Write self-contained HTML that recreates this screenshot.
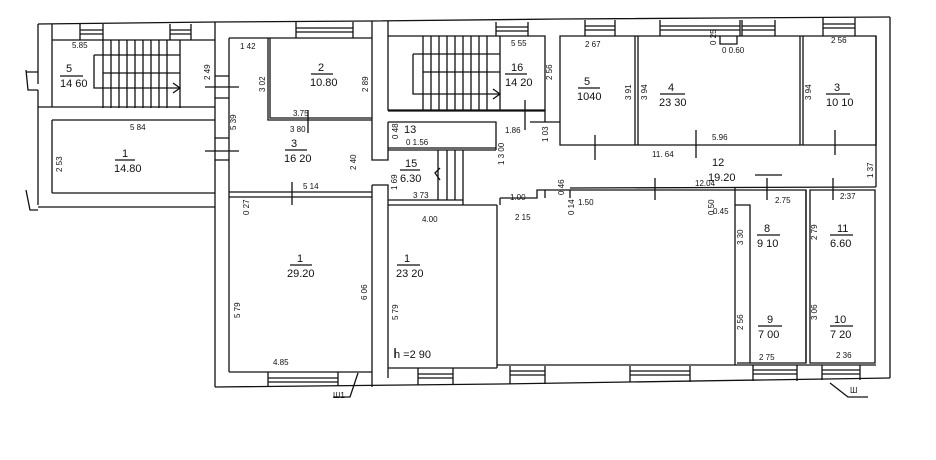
<!DOCTYPE html>
<html><head><meta charset="utf-8"><style>
html,body{margin:0;padding:0;background:#fff;width:936px;height:460px;overflow:hidden}
svg{display:block}
text{font-family:"Liberation Sans",sans-serif;fill:#111}
.l{font-size:11px}
.d{font-size:8px}
</style></head><body>
<svg width="936" height="460" viewBox="0 0 936 460" xmlns="http://www.w3.org/2000/svg" stroke="#111" fill="none" stroke-width="1.3">
<path d="M38 24 L215 22 L372 21 L560 19 L890 17"/>
<path d="M38 24 V72 H26 M38 84 V72"/>
<path d="M26 70 L28 90 H38"/>
<path d="M52 24 V107 M38 90 V107"/>
<path d="M52 40 H215"/>
<path d="M38 107 H215 M38 107 V205"/>
<path d="M52 120 H215 M52 120 V193"/>
<path d="M52 193 H215 M38 207 H215"/>
<path d="M26 190 L30 210 H38"/>
<path d="M80 24 V40 M103 24 V40 M80 30 H103 M80 34 H103"/>
<path d="M170 24 V40 M191 24 V40 M170 30 H191 M170 34 H191"/>
<path d="M94 55 V88 H180 M94 55 H180 M103 40 V108 M180 40 V108 M103 73 H180"/>
<path d="M111 40V108M119 40V108M127 40V108M135 40V108M143 40V108M151 40V108M159 40V108M167 40V108"/>
<path d="M173 83 L180 88 L173 93"/>
<path d="M215 22 V387 M229 38 V372"/>
<path d="M215 76 H229 M215 98 H229 M205 87 H239"/>
<path d="M215 138 H229 M215 160 H229 M205 151 H239"/>
<path d="M229 38 H372 M229 192 H372 M229 197 H372"/>
<path d="M268 38 V120 H372 M270 38 V118 H372"/>
<path d="M296 22 V38 M353 22 V38 M296 28 H353 M296 32 H353"/>
<path d="M308 110 V133"/>
<path d="M292 182 V205"/>
<path d="M372 21 V160 H388 V122 M388 21 V36"/>
<path d="M372 185 H388 V378 M372 185 V387"/>
<path d="M388 36 H545 V110 H388 Z"/>
<path d="M413 54 V94 H500 M413 54 H500 M423 36 V110 M500 36 V110 M423 72 H500"/>
<path d="M431 36V110M439 36V110M447 36V110M455 36V110M463 36V110M471 36V110M479 36V110M487 36V110"/>
<path d="M493 89 L500 94 L493 99"/>
<path d="M496 22 V36 M528 22 V36 M496 27 H528 M496 31 H528"/>
<path d="M525 100 V130"/>
<path d="M388 122 H496 V150 M388 148 H496 M388 150 H496"/>
<path d="M388 111 H545 M545 110 V122 M530 122 H560"/>
<path d="M438 150 V200 M447 150 V200 M455 150 V200 M463 150 V200"/>
<path d="M440 168 L435 173 L440 180"/>
<path d="M388 200 H463 M388 205 H497 M463 200 V205"/>
<path d="M497 205 V368 M500 198 H537 V190 H545 V198"/>
<path d="M500 198 V205 M545 190 H570 V198 M570 190 H735"/>
<path d="M560 36 V145 H876 V36 Z"/>
<path d="M635 36 V145 M638 36 V145 M800 36 V145 M803 36 V145"/>
<path d="M585 20 V36 M615 20 V36 M585 26 H615 M585 30 H615"/>
<path d="M660 20 V36 M740 20 V36 M660 26 H740 M660 30 H740"/>
<path d="M720 36 V44 H737 V36"/>
<path d="M742 20 V36 M775 20 V36 M742 26 H775 M742 30 H775"/>
<path d="M823 18 V36 M855 18 V36 M823 24 H855 M823 28 H855"/>
<path d="M595 135 V160 M696 130 V158 M835 130 V155"/>
<path d="M876 36 V187 M890 17 V378"/>
<path d="M570 188 L876 187"/>
<path d="M655 178 V200 M767 178 V200 M833 178 V200"/>
<path d="M735 188 V205 H750 V363 M735 205 V365"/>
<path d="M735 190 H806 V363 H737 M810 190 H875 V363 H810 Z"/>
<path d="M806 190 V363"/>
<path d="M229 372 H372 M388 368 H497 M497 365 H876"/>
<path d="M215 387 L500 384 L890 378"/>
<path d="M268 372 V386 M338 372 V386 M268 378 H338 M268 382 H338"/>
<path d="M418 368 V385 M453 368 V385 M418 374 H453 M418 378 H453"/>
<path d="M510 366 V384 M545 366 V384 M510 371 H545 M510 375 H545"/>
<path d="M630 366 V382 M690 366 V382 M630 371 H690 M630 375 H690"/>
<path d="M753 365 V381 M797 365 V381 M753 370 H797 M753 374 H797"/>
<path d="M822 365 V380 M860 365 V380 M822 370 H860 M822 374 H860"/>
<path d="M358 373 L350 397 H333"/>
<path d="M830 383 L848 397 H868"/>
<path d="M395 348 V358"/>
<path d="M60 76 H83 M115 160 H135 M311 74 H333 M285 150 H307 M505 74 H527 M578 88 H600 M660 94 H685 M826 94 H850 M755 175 H782 M290 265 H312 M397 265 H420 M757 235 H780 M830 235 H853 M758 326 H782 M830 326 H853 M400 170 H420"/>
</svg>
<svg width="936" height="460" style="position:absolute;left:0;top:0">
<g class="l">
<text x="66" y="72">5</text><text x="60" y="87">14 60</text>
<text x="122" y="157">1</text><text x="114" y="172">14.80</text>
<text x="318" y="71">2</text><text x="310" y="86">10.80</text>
<text x="291" y="147">3</text><text x="284" y="162">16 20</text>
<text x="511" y="71">16</text><text x="505" y="86">14 20</text>
<text x="404" y="133">13</text>
<text x="405" y="167">15</text><text x="400" y="182">6.30</text>
<text x="584" y="85">5</text><text x="577" y="100">1040</text>
<text x="668" y="91">4</text><text x="659" y="106">23 30</text>
<text x="834" y="91">3</text><text x="826" y="106">10 10</text>
<text x="712" y="166">12</text><text x="708" y="181">19.20</text>
<text x="297" y="262">1</text><text x="287" y="277">29.20</text>
<text x="404" y="262">1</text><text x="396" y="277">23 20</text>
<text x="764" y="232">8</text><text x="757" y="247">9 10</text>
<text x="837" y="232">11</text><text x="830" y="247">6.60</text>
<text x="767" y="323">9</text><text x="758" y="338">7 00</text>
<text x="834" y="323">10</text><text x="830" y="338">7 20</text>
<text x="394" y="358">h =2 90</text>
</g>
<g class="d">
<text x="72" y="48">5.85</text><text x="130" y="130">5 84</text><text x="240" y="49">1 42</text>
<text x="293" y="116">3.75</text><text x="290" y="132">3 80</text><text x="303" y="189">5 14</text>
<text x="413" y="198">3 73</text><text x="422" y="222">4.00</text>
<text x="511" y="46">5 55</text><text x="505" y="133">1.86</text>
<text x="406" y="145">0 1.56</text><text x="510" y="200">1.00</text>
<text x="578" y="205">1.50</text><text x="515" y="220">2 15</text>
<text x="585" y="47">2 67</text><text x="722" y="53">0 0.60</text>
<text x="712" y="140">5.96</text><text x="652" y="157">11. 64</text><text x="695" y="186">12.04</text>
<text x="831" y="43">2 56</text><text x="775" y="203">2.75</text><text x="840" y="199">2:37</text>
<text x="713" y="214">0.45</text><text x="273" y="365">4.85</text>
<text x="759" y="360">2 75</text><text x="836" y="358">2 36</text>
<text x="333" y="398">Ш1</text><text x="850" y="393">Ш</text>
</g>
<g class="d">
<text transform="translate(210,80) rotate(-90)">2 49</text>
<text transform="translate(236,130) rotate(-90)">5 39</text>
<text transform="translate(265,92) rotate(-90)">3 02</text>
<text transform="translate(368,92) rotate(-90)">2 89</text>
<text transform="translate(356,170) rotate(-90)">2 40</text>
<text transform="translate(62,172) rotate(-90)">2 53</text>
<text transform="translate(249,215) rotate(-90)">0 27</text>
<text transform="translate(367,300) rotate(-90)">6 06</text>
<text transform="translate(240,318) rotate(-90)">5 79</text>
<text transform="translate(398,320) rotate(-90)">5 79</text>
<text transform="translate(397,190) rotate(-90)">1 69</text>
<text transform="translate(398,139) rotate(-90)">0 48</text>
<text transform="translate(552,80) rotate(-90)">2 56</text>
<text transform="translate(504,165) rotate(-90)">1 3 00</text>
<text transform="translate(548,142) rotate(-90)">1 03</text>
<text transform="translate(564,195) rotate(-90)">0 46</text>
<text transform="translate(574,215) rotate(-90)">0 14</text>
<text transform="translate(631,100) rotate(-90)">3 91</text>
<text transform="translate(647,100) rotate(-90)">3 94</text>
<text transform="translate(811,100) rotate(-90)">3 94</text>
<text transform="translate(716,45) rotate(-90)">0 25</text>
<text transform="translate(714,215) rotate(-90)">0 50</text>
<text transform="translate(873,178) rotate(-90)">1 37</text>
<text transform="translate(743,245) rotate(-90)">3 30</text>
<text transform="translate(817,240) rotate(-90)">2 79</text>
<text transform="translate(743,330) rotate(-90)">2 56</text>
<text transform="translate(817,320) rotate(-90)">3 06</text>
</g>
</svg>
</body></html>
